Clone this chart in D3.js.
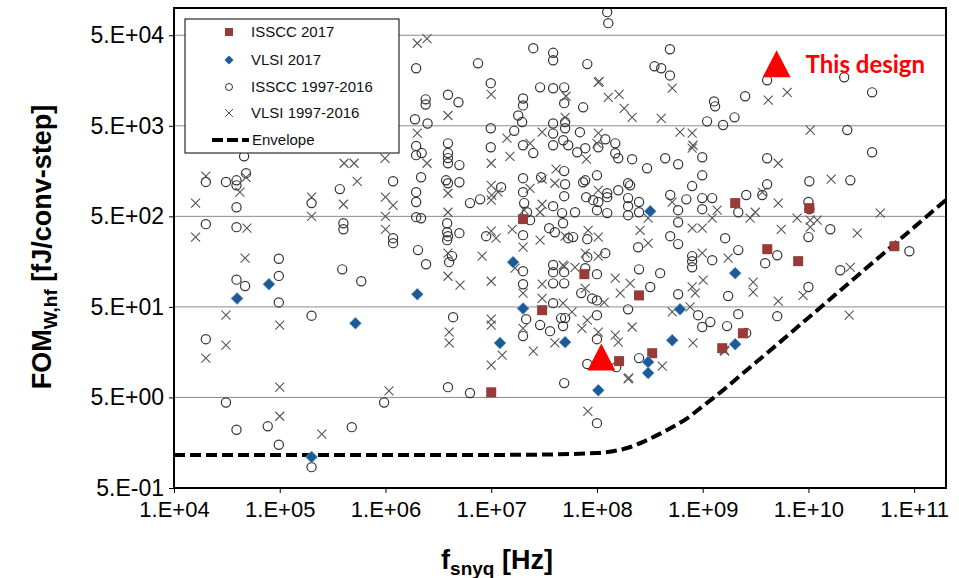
<!DOCTYPE html>
<html><head><meta charset="utf-8">
<script src="https://cdn.jsdelivr.net/npm/d3@7"></script>
<style>body{margin:0;background:#fff}svg{display:block}text{font-family:"Liberation Sans",Arial,sans-serif}</style>
</head><body><svg id="c" width="959" height="578"></svg>
<script>
// ---------- data ----------
const xTicks = [1e4, 1e5, 1e6, 1e7, 1e8, 1e9, 1e10, 1e11];
const xTickLabels = ["1.E+04","1.E+05","1.E+06","1.E+07","1.E+08","1.E+09","1.E+10","1.E+11"];
const yTicks = [0.5, 5, 50, 500, 5000, 50000];
const yTickLabels = ["5.E-01","5.E+00","5.E+01","5.E+02","5.E+03","5.E+04"];
const legendLabels = ["ISSCC 2017","VLSI 2017","ISSCC 1997-2016","VLSI 1997-2016","Envelope"];

// [f_snyq (Hz), FOM (fJ/conv-step)]
const isscc2017 = [[2.0e7,466],[3.03e7,46],[1.0e7,5.7],[7.6e7,115],[2.5e8,67],[2.03e9,700],[4.08e9,217],[8.0e9,160],[1.02e10,616],[6.5e10,234],[2.4e9,25.6],[1.53e9,17.5],[1.62e8,12.6],[3.33e8,15.4]];
const vlsi2017 = [[3.95e4,62],[7.9e4,89],[5.2e5,33],[2.0e6,69],[2.0e5,1.1],[1.61e7,156],[2.0e7,48],[1.21e7,20],[5.0e7,20.4],[3.19e8,570],[6.1e8,47],[2.03e9,118],[5.15e8,21.4],[2.03e9,19.4],[3.05e8,12.3],[3.05e8,9.3],[1.03e8,6.0]];
const isscc9716 = [[4.6e4,2300],[2.0e4,1200],[3.1e4,1200],[3.9e4,1250],[3.9e4,1100],[4.8e4,1500],[3.7e5,1000],[2.0e5,700],[3.9e4,630],[2.0e4,410],[3.9e4,380],[4.0e5,420],[4.0e5,360],[9.8e4,170],[3.9e4,100],[4.7e4,85],[9.8e4,110],[9.8e4,56],[3.9e5,130],[5.9e5,96],
[2.0e5,40],[2.0e4,22],[3.1e4,4.4],[7.7e4,2.4],[3.9e4,2.2],[4.8e5,2.35],[9.8e4,1.5],[2.0e5,0.85],
[1.95e6,21600],[7.5e6,24500],[2.5e7,36000],[3.85e7,32000],[3.85e7,26500],[3.9e6,11000],[4.9e6,9100],[2.4e6,9800],[2.4e6,8600],[9.9e6,14800],[1.9e6,5900],[2.5e6,5300],[2.0e7,10000],[2.0e7,8400],[1.8e7,6500],[1.96e7,5500],[2.9e7,13300],[3.85e7,13000],[9.9e6,4700],[1.65e7,4400],[3.85e7,5300],[3.85e7,4100],
[1.25e8,90000],[1.28e8,68000],[8.1e7,24000],[4.9e8,35000],[3.5e8,22700],[4.05e8,21600],[4.9e8,18000],[4.9e7,13300],[4.9e7,8900],[7.4e7,8000],[5.0e7,5500],[5.0e7,4700],[1.28e9,9300],[1.31e9,8200],[2.52e9,10600],[1.1e9,5600],[1.56e9,5100],[2.0e9,6200],[6.9e7,4250],
[4.07e9,15900],[2.18e10,17200],[4.0e10,11700],[2.33e10,4500],
[1.95e6,3000],[1.95e6,2370],[2.2e6,2500],[3.9e6,3200],[3.9e6,2500],[3.9e6,2200],[3.9e6,1930],[5.0e6,1840],[9.9e6,2900],[2.0e7,3050],[2.5e7,2500],[3.85e7,3050],[4.8e7,3460],[1.18e6,1220],[2.17e6,1350],[1.95e6,925],[1.95e6,720],[3.74e6,1250],[3.9e6,1160],[5.0e6,1190],[1.24e7,1050],[6.3e6,700],[7.85e6,770],[2.0e7,1320],[2.0e7,925],[2.96e7,1350],[4.9e7,1580],[5.0e7,1130],[4.9e7,835],[1.95e6,490],[2.17e6,477],[3.83e6,420],[1.18e6,287],[1.18e6,253],[3.83e6,334],[3.9e6,302],[3.83e6,273],[5.0e6,326],[8.95e6,302],[2.05e7,700],[2.33e7,454],[2.18e7,555],[3.85e7,648],[4.68e7,543],[4.78e7,420],[3.53e7,370],[4.0e7,334],[2.0e7,310],[2.03e6,212],[2.42e6,148],[4.26e6,182],[4.0e6,156],[2.0e7,124],[2.0e7,89],[3.85e7,145],[3.85e7,121],[3.85e7,91],[4.9e7,121],[4.9e7,91],[3.85e7,55],
[1.2e8,3550],[1.03e8,2900],[5.35e7,3050],[6.5e7,2550],[7.75e7,2830],[1.49e8,3200],[1.49e8,2490],[1.59e8,2190],[2.15e8,2140],[4.42e8,2190],[5.86e8,1880],[9.9e8,2250],[2.98e8,1700],[1.0e8,1420],[7.75e7,1250],[7.4e7,1190],[1.97e8,1160],[2.06e8,1100],[9.9e8,1420],[7.95e8,1080],[1.59e8,970],[1.25e8,900],[1.25e8,815],[7.9e7,815],[9.2e7,755],[1.03e8,720],[1.0e8,585],[1.97e8,795],[1.97e8,648],[2.5e8,720],[1.97e8,515],[2.5e8,555],[1.25e8,543],[6.2e7,555],[4.93e8,860],[5.86e8,585],[7.0e8,770],[9.9e8,795],[1.23e9,795],[9.9e8,600],[2.58e9,860],[2.17e9,555],[5.86e8,430],[8.1e7,280],[4.93e8,302],[5.86e8,247],[2.45e8,228],[1.63e9,287],[2.17e9,212],[5.35e7,287],[5.95e7,295],[8.1e7,177],[1.2e8,196],[7.95e8,182],[7.95e8,160],[7.95e8,137],[1.23e9,164],[3.9e9,152],[7.75e7,134],[1.0e8,115],[2.5e8,130],[3.96e8,118],[3.19e8,83],[5.86e8,69],[1.74e9,66],[7.1e7,71],[9.0e7,62],[1.0e8,59],
[4.0e10,2550],[4.07e9,2190],[1.02e10,1220],[2.49e10,1250],[4.07e9,1130],[3.66e9,860],[1.0e10,720],[1.02e10,600],[1.61e10,360],[1.0e10,295],[5.07e9,186],[2.0e10,127],[1.0e10,83],[9.0e10,206],
[4.36e6,38.5],[2.14e7,36.6],[2.0e7,23.8],[2.9e7,31.5],[3.6e7,27],[4.58e7,37.6],[5.0e7,37.6],[4.78e7,30.7],[3.9e6,6.5],[6.3e6,5.6],[4.9e7,7.2],[9.7e5,4.4],
[1.97e8,47],[9.05e8,40.5],[9.9e8,30],[1.18e9,34],[2.17e9,41.6],[1.7e9,30.7],[2.58e9,25.7],[1.0e8,40.5],[1.0e8,22],[8.1e7,11.7],[1.52e8,10.8],[2.5e8,13.6],[1.0e8,2.6],
[5.07e9,39.5]];
const vlsi9716 = [[2.0e4,1390],[4.8e4,1350],[4.2e4,925],[1.6e4,700],[1.6e4,295],[4.9e4,370],[2.0e5,815],[2.0e5,500],[4.06e5,1930],[5.05e5,1930],[5.4e5,1220],[4.0e5,680],[4.7e4,173],
[3.1e4,40.5],[1.0e5,31.5],[3.1e4,18.9],[2.0e4,13.6],[1.0e5,6.5],[1.0e5,3.1],[2.5e5,1.97],
[2.0e6,40800],[2.47e6,46000],[1.0e7,11100],[3.9e6,6500],[3.03e7,4250],[2.0e6,4140],
[5.15e8,13000],[1.03e8,15100],[1.05e8,15500],[1.28e8,10300],[1.62e8,11100],[1.81e8,7800],[2.15e8,6200],[4.05e8,6050],[5.1e7,10600],[5.0e7,6200],[6.1e8,4250],[7.95e8,4140],[1.03e8,4140],
[4.17e9,9600],[6.3e9,11700],[1.04e10,4470],
[9.9e5,2190],[2.47e6,1930],[1.0e7,1930],[1.5e7,2300],[1.41e7,3650],[2.33e7,3200],[1.0e6,815],[1.18e6,660],[3.9e6,900],[1.0e7,1100],[1.01e7,860],[1.16e7,925],[1.0e7,755],[2.33e7,1020],[3.03e7,1290],[4.1e7,1660],[4.0e7,1160],[1.0e6,500],[3.9e6,555],[1.0e6,360],[1.0e7,343],[1.11e7,287],[1.58e7,360],[2.05e7,585],[3.03e7,680],[2.9e7,555],[5.0e7,302],[2.0e7,228],[2.9e7,273],[3.9e6,196],[8.2e6,182],[3.9e6,109],[5.07e6,87],[1.0e7,96],[1.68e7,134],[2.0e7,71],[3.03e7,89],[3.03e7,62],[4.78e7,145],[4.9e7,140],[4.78e7,55],
[1.0e8,3200],[7.95e7,2140],[8.1e8,3050],[7.95e8,2830],[1.03e8,970],[5.15e8,720],[1.37e9,585],[1.23e9,477],[3.14e9,555],[2.81e9,477],[3.66e9,925],[3.05e8,477],[7.95e8,370],[9.9e8,370],[8.25e7,350],[1.03e8,295],[2.56e8,350],[3.05e8,253],[7.75e7,196],[1.03e8,182],[9.9e8,196],[1.74e9,173],[6.2e7,137],[1.49e8,104],[2.06e8,91],[1.66e8,71],[7.95e8,83],[1.01e9,99],[8.5e8,71],[3.0e9,94],[3.0e9,73],[7.75e7,80],[1.17e8,56],
[5.18e9,1930],[1.64e10,1290],[5.18e9,700],[4.78e10,543],[7.8e9,477],[1.04e10,454],[1.21e10,454],[1.04e10,380],[5.53e9,360],[2.9e10,326],[2.49e10,137],[8.9e9,67],[5.18e9,58],
[1.0e7,36.6],[1.0e7,31.5],[4.0e6,26.3],[4.0e6,20],[2.0e7,29],[1.27e7,14.7],[1.0e7,11.4],[2.5e7,16.2],[4.0e7,20],[1.08e6,5.9],
[5.15e8,44],[7.6e8,50],[7.2e7,29],[8.1e7,35.7],[1.03e8,26.3],[2.15e8,30],[5.8e7,44],[1.49e8,24.4],[1.59e8,20.4],[8.1e8,20],[1.6e9,16.6],[1.62e9,16.2],[4.14e8,11.1],[1.97e8,8.0],[2.0e8,8.2],[8.2e7,3.5],
[2.43e10,40.5]];
const envelopeF   = [1e4,1e6,1e7,3e7,1e8,2e8,3e8,5e8,7e8,1e9,1.5e9,2e9,3e9,5e9,1e10,2e10,5e10,1e11,2e11];
const envelopeFom = [1.16,1.16,1.16,1.17,1.22,1.4,1.7,2.3,2.9,4.0,5.8,7.7,11.5,19,38,76,190,380,760];
const thisDesign = [1.1e8, 14];
const thisDesignLabelPos = [5e9, 24200];
const thisDesignLabel = "This design";

// ---------- layout ----------
const svg = d3.select("#c");
const L = 174, R = 946, T = 8, B = 488;
const x = d3.scaleLog().domain([1e4, 2e11]).range([L, R]);
const y = d3.scaleLog().domain([0.5, 1e5]).range([B, T]);

const cCircle = "#333", cX = "#555", cSq = "#983a37", cDia = "#1f5a96", cTri = "#ff0000";

// gridlines
svg.append("g").selectAll("line").data(yTicks).join("line")
  .attr("x1", L).attr("x2", R).attr("y1", d => y(d)).attr("y2", d => y(d))
  .attr("stroke", "#8c8c8c").attr("stroke-width", 1);

// axes
const xAxis = d3.axisBottom(x).tickValues(xTicks).tickFormat((d,i) => xTickLabels[i]).tickSize(5).tickPadding(8);
const yAxis = d3.axisLeft(y).tickValues(yTicks).tickFormat((d,i) => yTickLabels[i]).tickSize(5).tickPadding(5);
const gx = svg.append("g").attr("transform", `translate(0,${B})`).call(xAxis);
const gy = svg.append("g").attr("transform", `translate(${L},0)`).call(yAxis);
[gx, gy].forEach(g => {
  g.select(".domain").remove();
  g.selectAll(".tick line").attr("stroke", "#000");
  g.selectAll(".tick text").attr("fill", "#000")
    .style("font-family", '"Liberation Sans", Arial, sans-serif');
});
gx.selectAll(".tick text").attr("font-size", 22);
gy.selectAll(".tick text").attr("font-size", 23);

// clip
svg.append("clipPath").attr("id", "clip").append("rect")
  .attr("x", L).attr("y", T).attr("width", R - L).attr("height", B - T);
const plot = svg.append("g").attr("clip-path", "url(#clip)");

// envelope
const envData = envelopeF.map((f, i) => [f, envelopeFom[i]]);
plot.append("path").datum(envData)
  .attr("d", d3.line().x(d => x(d[0])).y(d => y(d[1])).curve(d3.curveMonotoneX))
  .attr("fill", "none").attr("stroke", "#000").attr("stroke-width", 4)
  .attr("stroke-dasharray", "11,5");

// markers
const xPath = "M-4.5,-4.5L4.5,4.5M-4.5,4.5L4.5,-4.5";
plot.append("g").selectAll("circle").data(isscc9716).join("circle")
  .attr("cx", d => x(d[0])).attr("cy", d => y(d[1])).attr("r", 4.6)
  .attr("fill", "none").attr("stroke", cCircle).attr("stroke-width", 1.2);
plot.append("g").selectAll("path").data(vlsi9716).join("path")
  .attr("transform", d => `translate(${x(d[0])},${y(d[1])})`).attr("d", xPath)
  .attr("fill", "none").attr("stroke", cX).attr("stroke-width", 1.1);
plot.append("g").selectAll("rect").data(isscc2017).join("rect")
  .attr("x", d => x(d[0]) - 5).attr("y", d => y(d[1]) - 5).attr("width", 10).attr("height", 10)
  .attr("fill", cSq);
const diaPath = "M0,-6L6,0L0,6L-6,0Z";
plot.append("g").selectAll("path").data(vlsi2017).join("path")
  .attr("transform", d => `translate(${x(d[0])},${y(d[1])})`).attr("d", diaPath)
  .attr("fill", cDia).attr("stroke", "#6aaee0").attr("stroke-width", 0.7);

const triPath = "M0,-13.5L14,13.5L-14,13.5Z";
plot.append("path").attr("transform", `translate(${x(thisDesign[0])},${y(thisDesign[1])})`)
  .attr("d", triPath).attr("fill", cTri);

// annotation
svg.append("path").attr("transform", `translate(${x(thisDesignLabelPos[0])},${y(thisDesignLabelPos[1])})`)
  .attr("d", triPath).attr("fill", cTri);
svg.append("text").attr("x", x(thisDesignLabelPos[0]) + 29).attr("y", y(thisDesignLabelPos[1]) + 9)
  .attr("font-size", 24).attr("font-weight", "bold").attr("fill", cTri)
  .style("font-family", "Lato, 'Open Sans', sans-serif").text(thisDesignLabel);

// frame
svg.append("rect").attr("x", L).attr("y", T).attr("width", R - L).attr("height", B - T)
  .attr("fill", "none").attr("stroke", "#000").attr("stroke-width", 2);

// legend
const lg = svg.append("g");
lg.append("rect").attr("x", 185).attr("y", 19).attr("width", 214).attr("height", 134)
  .attr("fill", "#fff").attr("stroke", "#000").attr("stroke-width", 1);
const rowY = [32, 60, 87, 113, 140];
lg.append("rect").attr("x", 225).attr("y", rowY[0] - 4).attr("width", 8).attr("height", 8).attr("fill", cSq);
lg.append("path").attr("transform", `translate(229,${rowY[1]})`).attr("d", "M0,-4.5L4.5,0L0,4.5L-4.5,0Z").attr("fill", cDia);
lg.append("circle").attr("cx", 229).attr("cy", rowY[2]).attr("r", 3.5).attr("fill", "none").attr("stroke", cCircle);
lg.append("path").attr("transform", `translate(229,${rowY[3]})`).attr("d", "M-4,-4L4,4M-4,4L4,-4").attr("stroke", cX).attr("fill", "none");
lg.append("line").attr("x1", 212).attr("x2", 249).attr("y1", rowY[4]).attr("y2", rowY[4])
  .attr("stroke", "#000").attr("stroke-width", 4).attr("stroke-dasharray", "11,4");
lg.selectAll("text").data(legendLabels).join("text")
  .attr("x", (d, i) => i === 4 ? 252 : 251).attr("y", (d, i) => rowY[i]).attr("dy", "0.35em")
  .attr("font-size", 15).attr("fill", "#111").text(d => d);

// axis titles
const xt = svg.append("text").attr("x", 497).attr("y", 569).attr("text-anchor", "middle")
  .attr("font-size", 27).attr("font-weight", "bold").attr("fill", "#000");
xt.append("tspan").text("f");
xt.append("tspan").attr("font-size", 19).attr("dy", 6).text("snyq");
xt.append("tspan").attr("dy", -6).text(" [Hz]");

const yt = svg.append("text").attr("transform", "translate(51,247) rotate(-90)").attr("text-anchor", "middle")
  .attr("font-size", 27).attr("font-weight", "bold").attr("fill", "#000");
yt.append("tspan").text("FOM");
yt.append("tspan").attr("font-size", 19).attr("dy", 6).text("W,hf");
yt.append("tspan").attr("dy", -6).text(" [fJ/conv-step]");
</script>
</body></html>
